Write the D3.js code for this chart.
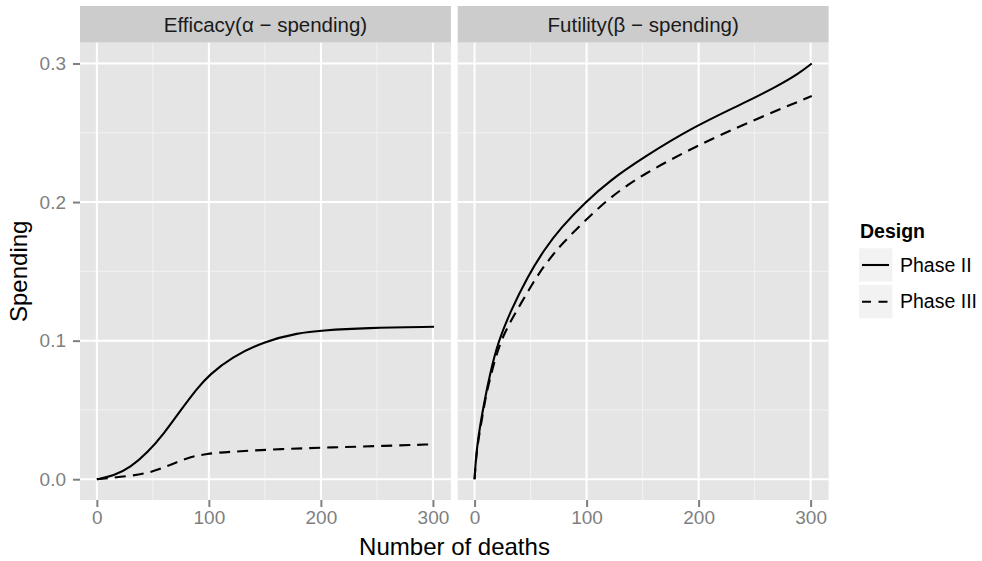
<!DOCTYPE html>
<html>
<head>
<meta charset="utf-8">
<script src="https://cdn.jsdelivr.net/npm/d3@7"></script>
<style>
body { margin: 0; background: #fff; }
svg { font-family: "Liberation Sans", Arial, Helvetica, sans-serif; }
</style>
</head>
<body>
<div id="chart"></div>
<script>
// values
var facets = ["Efficacy", "Futility"];
var facetGreek = ["α", "β"];
var designs = ["Phase II", "Phase III"];

var effPhase2X = [0, 15, 30, 45, 60, 75, 90, 100, 120, 150, 180, 200, 240, 301];
var effPhase2Y = [0, 0.0024, 0.0085, 0.019, 0.033, 0.050, 0.066, 0.075, 0.088, 0.0996, 0.1056, 0.1073, 0.1092, 0.110];
var effPhase3X = [0, 30, 50, 65, 80, 98, 120, 165, 210, 255, 301];
var effPhase3Y = [0, 0.0022, 0.0053, 0.0101, 0.0154, 0.0185, 0.0199, 0.0218, 0.023, 0.024, 0.0252];
var futPhase2X = [0, 1, 3, 8, 14, 21, 32, 47, 62, 77, 99, 121, 151, 196, 241, 271, 289, 301];
var futPhase2Y = [0, 0.013, 0.029, 0.053, 0.077, 0.099, 0.121, 0.1457, 0.1655, 0.1815, 0.200, 0.2157, 0.2324, 0.2545, 0.2716, 0.284, 0.2925, 0.300];
var futPhase3X = [0, 1, 3, 8, 11, 20, 27, 35, 48, 57, 66, 78, 99, 121, 151, 196, 241, 301];
var futPhase3Y = [0, 0.012, 0.027, 0.05, 0.064, 0.092, 0.106, 0.118, 0.136, 0.148, 0.158, 0.170, 0.1868, 0.2036, 0.2204, 0.2396, 0.2564, 0.2765];

var xTicks = [0, 100, 200, 300];
var xMinor = [50, 150, 250];
var yTicks = [0, 0.1, 0.2, 0.3];
var yMinor = [0.05, 0.15, 0.25];

function zip(xs, ys){ return xs.map((x, i) => ({x: x, y: ys[i]})); }

var series = [
	{facet: 0, design: 0, pts: zip(effPhase2X, effPhase2Y)},
	{facet: 0, design: 1, pts: zip(effPhase3X, effPhase3Y)},
	{facet: 1, design: 0, pts: zip(futPhase2X, futPhase2Y)},
	{facet: 1, design: 1, pts: zip(futPhase3X, futPhase3Y)}
];

var W = 982, H = 561;
var panelLeft = [80, 457.7], panelW = 370.9;
var panelTop = 42.7, panelBottom = 500, stripTop = 6;
var dash = ["none", "11,7"];

var svg = d3.select("#chart").append("svg").attr("width", W).attr("height", H);

var y = d3.scaleLinear().domain([-0.015, 0.315]).range([panelBottom, panelTop]);

facets.forEach(function(f, i){
	var x = d3.scaleLinear().domain([-15.05, 316.05]).range([panelLeft[i], panelLeft[i] + panelW]);
	var g = svg.append("g");
	// strip
	g.append("rect").attr("x", panelLeft[i]).attr("y", stripTop).attr("width", panelW).attr("height", panelTop - stripTop).attr("fill", "#cccccc");
	g.append("text").attr("x", panelLeft[i] + panelW / 2).attr("y", 31.7)
		.attr("text-anchor", "middle").attr("font-size", 20.5).attr("fill", "#1a1a1a")
		.text(f + "(" + facetGreek[i] + " \u2212 spending)");
	// panel
	g.append("rect").attr("x", panelLeft[i]).attr("y", panelTop).attr("width", panelW).attr("height", panelBottom - panelTop).attr("fill", "#e5e5e5");
	g.selectAll(".vminor").data(xMinor).enter().append("line")
		.attr("x1", d => x(d)).attr("x2", d => x(d)).attr("y1", panelTop).attr("y2", panelBottom)
		.attr("stroke", "#f2f2f2").attr("stroke-width", 1);
	g.selectAll(".hminor").data(yMinor).enter().append("line")
		.attr("y1", d => y(d)).attr("y2", d => y(d)).attr("x1", panelLeft[i]).attr("x2", panelLeft[i] + panelW)
		.attr("stroke", "#f2f2f2").attr("stroke-width", 1);
	g.selectAll(".vmajor").data(xTicks).enter().append("line")
		.attr("x1", d => x(d)).attr("x2", d => x(d)).attr("y1", panelTop).attr("y2", panelBottom)
		.attr("stroke", "#fff").attr("stroke-width", 2);
	g.selectAll(".hmajor").data(yTicks).enter().append("line")
		.attr("y1", d => y(d)).attr("y2", d => y(d)).attr("x1", panelLeft[i]).attr("x2", panelLeft[i] + panelW)
		.attr("stroke", "#fff").attr("stroke-width", 2);

	var line = d3.line().x(d => x(d.x)).y(d => y(d.y)).curve(d3.curveBasis);
	g.selectAll(".curve").data(series.filter(s => s.facet === i)).enter().append("path")
		.attr("d", s => line(s.pts)).attr("fill", "none").attr("stroke", "#000")
		.attr("stroke-width", 2.1).attr("stroke-dasharray", s => dash[s.design]);

	// x axis
	var ax = g.append("g").attr("transform", "translate(0," + panelBottom + ")")
		.call(d3.axisBottom(x).tickValues(xTicks).tickSize(7).tickPadding(4).tickFormat(d3.format("d")));
	ax.select(".domain").remove();
	ax.selectAll("line").attr("stroke", "#7f7f7f").attr("stroke-width", 2);
	ax.selectAll("text").attr("fill", "#7f7f7f").attr("font-size", 19).attr("font-family", null);
});

// y axis
var ay = svg.append("g").attr("transform", "translate(" + panelLeft[0] + ",0)")
	.call(d3.axisLeft(y).tickValues(yTicks).tickSize(7).tickPadding(7).tickFormat(d3.format(".1f")));
ay.select(".domain").remove();
ay.selectAll("line").attr("stroke", "#7f7f7f").attr("stroke-width", 2);
ay.selectAll("text").attr("fill", "#7f7f7f").attr("font-size", 19).attr("font-family", null);

// axis titles
svg.append("text").attr("x", 454.5).attr("y", 555).attr("text-anchor", "middle")
	.attr("font-size", 24).text("Number of deaths");
svg.append("text").attr("transform", "translate(27,271.3) rotate(-90)").attr("text-anchor", "middle")
	.attr("font-size", 24).text("Spending");

// legend
var lg = svg.append("g");
lg.append("text").attr("x", 860).attr("y", 238).attr("font-size", 19.5).attr("font-weight", "bold").text("Design");
var keys = lg.selectAll(".key").data(designs).enter().append("g")
	.attr("transform", (d, i) => "translate(859," + (248.3 + i * 36.7) + ")");
keys.append("rect").attr("width", 33.3).attr("height", 33.3).attr("fill", "#f2f2f2");
keys.append("line").attr("x1", 3).attr("x2", 30).attr("y1", 16.7).attr("y2", 16.7)
	.attr("stroke", "#000").attr("stroke-width", 2.1).attr("stroke-dasharray", (d, i) => i ? "9,7.5" : "none");
keys.append("text").attr("x", 41).attr("y", 23.4).attr("font-size", 19.5).text(d => d);
</script>
</body>
</html>
